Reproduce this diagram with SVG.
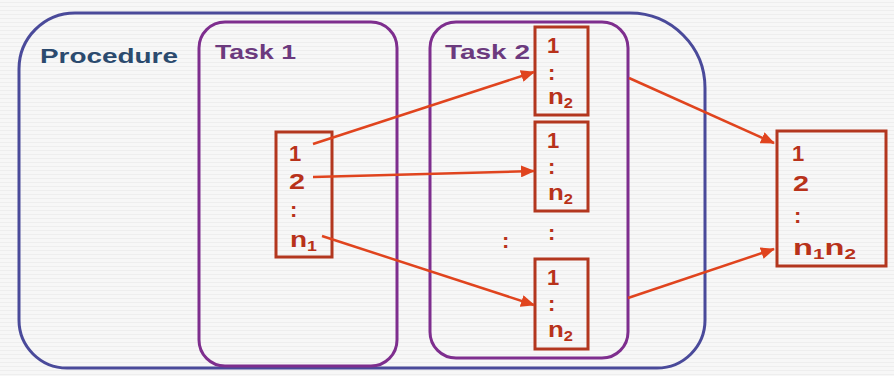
<svg xmlns="http://www.w3.org/2000/svg" width="894" height="376" viewBox="0 0 894 376">
<defs>
<marker id="ah" markerWidth="14" markerHeight="12" refX="13" refY="6" orient="auto" markerUnits="userSpaceOnUse">
<path d="M0,0 L14,6 L0,12 Z" fill="#e0441e"/>
</marker>
<pattern id="stripes" width="4" height="4" patternUnits="userSpaceOnUse">
<rect width="4" height="4" fill="#f7f7f7"/>
<rect y="2" width="4" height="1" fill="#eeeeee"/>
</pattern>
</defs>
<style>
.proc{fill:none;stroke:#4a4a9a;stroke-width:3}
.task{fill:none;stroke:#7e2e8e;stroke-width:3}
.box{fill:none;stroke:#b3371f;stroke-width:3}
.lbl{font-family:"Liberation Sans",Arial,sans-serif;font-weight:bold}
.num{font-family:"Liberation Sans",Arial,sans-serif;font-weight:bold;font-size:22px;fill:#b8321a}
.sub{font-size:14px}
.conn{stroke:#e0441e;stroke-width:2.5;fill:none;marker-end:url(#ah)}
</style>
<rect width="894" height="376" fill="url(#stripes)"/>
<g id="procedure">
<path class="proc" d="M75,13 H630 A75,75 0 0 1 705,88 V320 A48,48 0 0 1 657,368 H67 A48,48 0 0 1 19,320 V69 A56,56 0 0 1 75,13 Z"/>
<text class="lbl" x="40" y="63" font-size="21" fill="#2b4a6e" textLength="138" lengthAdjust="spacingAndGlyphs">Procedure</text>
</g>
<g id="task1">
<rect class="task" x="199" y="22" width="198" height="344" rx="26"/>
<text class="lbl" x="215" y="59" font-size="21" fill="#6c3a7e" textLength="81" lengthAdjust="spacingAndGlyphs">Task 1</text>
</g>
<g id="task2">
<rect class="task" x="430" y="22" width="198" height="336" rx="26"/>
<text class="lbl" x="445" y="59" font-size="21" fill="#6c3a7e" textLength="85" lengthAdjust="spacingAndGlyphs">Task 2</text>
</g>
<g id="t1box">
<rect class="box" x="276" y="132" width="56" height="125"/>
<text class="num" x="289" y="161">1</text>
<text class="num" x="289" y="189" textLength="16" lengthAdjust="spacingAndGlyphs">2</text>
<text class="num" x="290" y="217">:</text>
<text class="num" x="290" y="247" textLength="27" lengthAdjust="spacingAndGlyphs">n<tspan class="sub" dy="4">1</tspan></text>
</g>
<g id="t2boxA">
<rect class="box" x="535" y="27" width="53" height="88"/>
<text class="num" x="547" y="53">1</text>
<text class="num" x="548" y="80">:</text>
<text class="num" x="548" y="104" textLength="25" lengthAdjust="spacingAndGlyphs">n<tspan class="sub" dy="4">2</tspan></text>
</g>
<g id="t2boxB">
<rect class="box" x="535" y="122" width="53" height="89"/>
<text class="num" x="547" y="148">1</text>
<text class="num" x="548" y="174">:</text>
<text class="num" x="548" y="200" textLength="25" lengthAdjust="spacingAndGlyphs">n<tspan class="sub" dy="4">2</tspan></text>
</g>
<g id="t2boxC">
<rect class="box" x="535" y="259" width="53" height="90"/>
<text class="num" x="547" y="285">1</text>
<text class="num" x="548" y="311">:</text>
<text class="num" x="548" y="337" textLength="25" lengthAdjust="spacingAndGlyphs">n<tspan class="sub" dy="4">2</tspan></text>
</g>
<g id="ellipsis">
<text class="num" x="502" y="248">:</text>
<text class="num" x="548" y="240">:</text>
</g>
<g id="result">
<rect class="box" x="777" y="131" width="109" height="135"/>
<text class="num" x="792" y="161">1</text>
<text class="num" x="793" y="191" textLength="16" lengthAdjust="spacingAndGlyphs">2</text>
<text class="num" x="794" y="223">:</text>
<text class="num" x="793" y="255" textLength="63" lengthAdjust="spacingAndGlyphs">n<tspan class="sub" dy="4">1</tspan><tspan dy="-4">n</tspan><tspan class="sub" dy="4">2</tspan></text>
</g>
<g id="connectors">
<line class="conn" x1="313" y1="144" x2="534" y2="72"/>
<line class="conn" x1="313" y1="177" x2="534" y2="171"/>
<line class="conn" x1="322" y1="236" x2="534" y2="305"/>
<line class="conn" x1="629" y1="78" x2="774" y2="143"/>
<line class="conn" x1="628" y1="298" x2="774" y2="249"/>
</g>
</svg>
